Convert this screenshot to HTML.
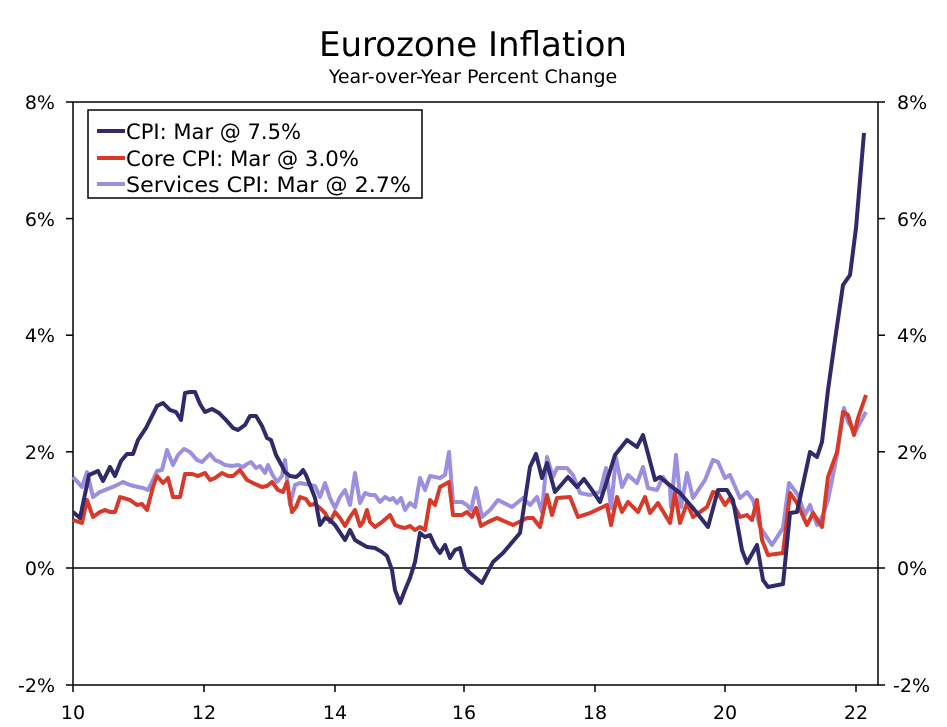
<!DOCTYPE html>
<html><head><style>
html,body{margin:0;padding:0;background:#fff;}
svg{display:block;font-family:"DejaVu Sans","Liberation Sans",sans-serif;}
</style></head><body>
<svg width="947" height="727" viewBox="0 0 947 727" xmlns="http://www.w3.org/2000/svg">
<rect width="947" height="727" fill="#fff"/>
<text x="473" y="56" font-size="34" text-anchor="middle" fill="#000">Eurozone Inflation</text>
<text x="473" y="83" font-size="19" text-anchor="middle" fill="#000">Year-over-Year Percent Change</text>
<rect x="73" y="102" width="805" height="583" fill="none" stroke="#000" stroke-width="1.5"/>
<line x1="73" y1="568" x2="878" y2="568" stroke="#000" stroke-width="1.5"/>
<g stroke="#000" stroke-width="1.5">
<line x1="66" y1="102" x2="73" y2="102"/><line x1="66" y1="218.6" x2="73" y2="218.6"/><line x1="66" y1="335.2" x2="73" y2="335.2"/><line x1="66" y1="451.8" x2="73" y2="451.8"/><line x1="66" y1="568" x2="73" y2="568"/><line x1="66" y1="685" x2="73" y2="685"/>
<line x1="878" y1="102" x2="885" y2="102"/><line x1="878" y1="218.6" x2="885" y2="218.6"/><line x1="878" y1="335.2" x2="885" y2="335.2"/><line x1="878" y1="451.8" x2="885" y2="451.8"/><line x1="878" y1="568" x2="885" y2="568"/><line x1="878" y1="685" x2="885" y2="685"/>
<line x1="73" y1="685" x2="73" y2="692"/><line x1="204" y1="685" x2="204" y2="692"/><line x1="335" y1="685" x2="335" y2="692"/><line x1="464" y1="685" x2="464" y2="692"/><line x1="595" y1="685" x2="595" y2="692"/><line x1="725" y1="685" x2="725" y2="692"/><line x1="856" y1="685" x2="856" y2="692"/>
</g>
<g font-size="19" fill="#000" text-anchor="end">
<text x="55" y="109">8%</text><text x="55" y="226">6%</text><text x="55" y="342">4%</text><text x="55" y="459">2%</text><text x="55" y="575">0%</text><text x="55" y="692">-2%</text>
</g>
<g font-size="19" fill="#000" text-anchor="start">
<text x="897" y="109">8%</text><text x="897" y="226">6%</text><text x="897" y="342">4%</text><text x="897" y="459">2%</text><text x="897" y="575">0%</text><text x="893" y="692">-2%</text>
</g>
<g font-size="19" fill="#000" text-anchor="middle">
<text x="73" y="719">10</text><text x="204" y="719">12</text><text x="335" y="719">14</text><text x="464" y="719">16</text><text x="595" y="719">18</text><text x="725" y="719">20</text><text x="856" y="719">22</text>
</g>
<g fill="none" stroke-width="4" stroke-linejoin="round">
<polyline stroke="#9d8fe0" points="73,477 82,487 87,472 93,497 100,492 110,488 115,486 123,482 130,485 138,487 143,488 148,490 153,480 157,471 162,470 167,450 173,465 178,455 184,449 190,452 197,460 202,462 205,459 210,454 215,460 220,462 225,465 232,466 238,465 243,467 247,464 251,462 256,468 260,466 265,473 268,465 272,474 277,482 282,476 285,460 290,505 295,485 300,483 305,484 310,485 315,486 320,497 325,483 330,498 335,508 340,497 345,490 350,505 355,473 360,503 365,493 370,495 375,495 380,502 385,497 390,500 393,498 397,503 401,498 405,510 410,503 415,507 420,478 425,490 430,476 440,478 445,475 449,452 453,502 462,502 467,505 471,510 476,488 482,517 490,510 498,500 512,507 523,498 530,505 537,497 542,512 547,457 553,477 557,468 567,468 573,475 580,493 590,495 600,492 606,468 611,508 616,458 622,487 628,475 637,483 643,467 648,488 657,490 663,477 670,487 671,507 676,455 681,507 687,473 693,498 705,480 713,460 718,462 725,478 730,475 740,498 747,492 753,500 760,527 772,545 783,528 789,483 798,495 805,515 810,505 817,525 823,515 828,500 837,455 844,408 848,422 855,432 866,412"/>
<polyline stroke="#d83a2a" points="73,520 82,523 87,500 93,517 100,512 105,510 110,512 115,512 120,497 130,500 137,505 142,504 147,510 153,487 157,476 163,483 168,478 173,497 180,497 185,474 192,474 198,476 205,473 210,480 215,478 222,473 228,476 233,476 240,470 247,480 255,484 262,487 267,486 272,482 278,490 283,492 287,482 292,512 296,507 300,497 306,499 310,505 315,504 320,508 325,513 330,522 335,512 340,518 345,526 350,517 355,510 360,526 363,522 367,510 370,522 375,527 382,522 390,515 395,525 400,527 405,528 410,526 415,530 420,527 425,530 430,500 435,505 440,487 449,482 453,515 462,515 467,512 472,517 476,508 481,526 488,522 497,518 513,525 527,518 533,518 540,527 547,495 552,515 557,498 570,497 578,517 590,513 607,505 611,525 617,497 622,512 628,502 638,512 645,497 650,513 658,503 670,523 675,493 680,523 687,503 693,517 707,507 713,492 718,493 725,505 730,498 740,517 747,515 752,520 757,500 762,540 768,555 783,553 790,493 797,503 807,525 813,513 822,527 828,477 837,452 843,412 848,415 854,435 858,418 866,395"/>
<polyline stroke="#2e2a6b" points="73,512 80,518 89,475 98,471 103,481 110,467 115,476 121,461 127,454 133,454 138,440 146,428 151,418 157,406 163,403 170,410 176,412 181,420 185,393 190,392 195,392 200,404 205,412 212,409 219,413 226,420 233,428 238,430 245,425 250,416 256,416 262,426 267,438 271,440 276,455 282,466 285,472 290,476 296,477 300,474 303,470 306,475 310,485 315,498 320,525 325,518 330,520 335,525 345,540 350,530 355,540 360,543 367,547 375,548 382,552 387,556 392,570 395,590 400,603 405,590 410,578 415,562 420,533 425,537 430,535 435,546 440,553 445,545 450,558 455,550 460,548 465,568 470,573 482,583 493,562 503,553 520,533 530,467 536,454 542,478 547,463 555,492 568,477 577,487 584,479 592,490 600,502 605,487 615,455 627,440 637,447 643,435 655,480 660,477 667,483 680,493 693,508 708,527 718,490 727,490 733,500 742,550 747,563 757,545 763,580 768,587 783,584 790,513 797,512 810,452 817,457 822,442 828,390 835,340 843,285 850,275 856,228 864,133"/>
</g>
<rect x="88" y="110" width="334" height="88" fill="#fff" stroke="#000" stroke-width="1.5"/>
<g stroke-width="4">
<line x1="97" y1="131" x2="125" y2="131" stroke="#2e2a6b"/>
<line x1="97" y1="158" x2="125" y2="158" stroke="#d83a2a"/>
<line x1="97" y1="184" x2="125" y2="184" stroke="#9d8fe0"/>
</g>
<g font-size="21" fill="#000">
<text x="126" y="139" textLength="175" lengthAdjust="spacingAndGlyphs">CPI: Mar @ 7.5%</text>
<text x="126" y="166" textLength="233" lengthAdjust="spacingAndGlyphs">Core CPI: Mar @ 3.0%</text>
<text x="126" y="192" textLength="285" lengthAdjust="spacingAndGlyphs">Services CPI: Mar @ 2.7%</text>
</g>
</svg>
</body></html>
